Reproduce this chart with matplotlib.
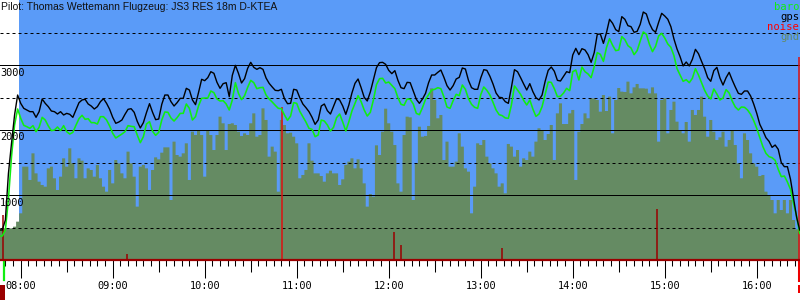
import numpy as np
import matplotlib
matplotlib.use('Agg')
import matplotlib.pyplot as plt
import matplotlib.transforms as mtransforms
from matplotlib.patches import Rectangle

# barogram of one flight, times in minutes after midnight, heights in m
title = 'Pilot: Thomas Wettemann Flugzeug: JS3 RES 18m D-KTEA'

# logger fixes every 2 minutes from 07:46 to 16:28
fix_time = np.arange(466, 989, 2)

gps = [462,
       462, 615, 1333, 1795, 2231, 2538, 2410, 2333, 2308, 2282, 2282, 2195, 2282, 2477, 2410, 2359, 2292, 2282, 2246,
       2282, 2231, 2256, 2241, 2195, 2308, 2420, 2462, 2472, 2400, 2369, 2323, 2359, 2436, 2482, 2410, 2318, 2195,
       2103, 2123, 2154, 2241, 2318, 2328, 2272, 2133, 2031, 2113, 2267, 2405, 2272, 2159, 2169, 2395, 2538, 2538, 2436,
       2369, 2421, 2487, 2487, 2641, 2615, 2462, 2390, 2580, 2780, 2759, 2805, 2897, 2872, 2733, 2641, 2713, 2728, 2513,
       2841, 2995, 2872, 2723, 2790, 2949, 3041, 2964, 2933, 2959, 2933, 2800, 2718, 2662, 2610, 2605, 2626, 2482, 2405,
       2410, 2626, 2615, 2497, 2400, 2344, 2282, 2195, 2087, 2154, 2369, 2400, 2297, 2246, 2364, 2482, 2462, 2369,
       2241, 2385, 2569, 2718, 2785, 2651, 2503, 2446, 2585, 2769, 2959, 3036, 3041, 3010, 2918, 2867, 2913, 2764, 2651,
       2636, 2733, 2728, 2600, 2472, 2410, 2477, 2564, 2728, 2846, 2846, 2887, 2923, 2810, 2682, 2615, 2682, 2785, 2810,
       2954, 2938, 2764, 2651, 2626, 2626, 2800, 2928, 2918, 2826, 2708, 2569, 2503, 2497, 2436, 2410, 2656, 2928, 2897,
       2805, 2708, 2615, 2713, 2590, 2497, 2462, 2538, 2749, 2918, 2969, 2903, 2764, 2754, 2826, 2897, 2882, 3154,
       3256, 3159, 3251, 3231, 3159, 3041, 3190, 3472, 3477, 3333, 3497, 3703, 3641, 3544, 3513, 3744, 3703, 3605, 3590,
       3503, 3518, 3626, 3815, 3785, 3641, 3544, 3503, 3656, 3795, 3754, 3703, 3590, 3400, 3246, 3128, 2985, 3046, 2985,
       3087, 3241, 3174, 3056, 2944, 2805, 2749, 2913, 2964, 2800, 2692, 2805, 2887, 2769, 2662, 2564, 2549, 2600, 2600,
       2523, 2400, 2256, 2087, 1990, 1882, 1826, 1733, 1769, 1703, 1498, 1436, 1436, 1241, 944, 657, 462]

baro = [369,
        369, 462, 939, 1590, 2077, 2323, 2180, 2072, 2051, 2026, 2067, 1974, 2041, 2195, 2154, 2062, 1990, 2000, 2046,
        1990, 2067, 1974, 1938, 1964, 2072, 2174, 2226, 2164, 2174, 2113, 2113, 2092, 2205, 2205, 2154, 2062, 1949,
        1877, 1908, 1938, 1974, 2067, 2056, 2051, 1923, 1805, 1897, 2092, 2128, 1980, 1918, 1964, 2154, 2277, 2272, 2185,
        2138, 2190, 2256, 2256, 2400, 2333, 2154, 2205, 2374, 2487, 2492, 2492, 2600, 2574, 2477, 2446, 2451, 2400, 2308,
        2462, 2728, 2564, 2467, 2528, 2656, 2764, 2728, 2636, 2651, 2656, 2538, 2477, 2431, 2380, 2333, 2328, 2231, 2149,
        2215, 2421, 2410, 2287, 2205, 2123, 2026, 2010, 1897, 1923, 2154, 2138, 2077, 1985, 2041, 2190, 2246, 2123,
        1985, 2128, 2292, 2410, 2528, 2436, 2308, 2215, 2272, 2462, 2697, 2790, 2795, 2723, 2738, 2687, 2636, 2497, 2395,
        2380, 2477, 2472, 2400, 2256, 2236, 2344, 2472, 2544, 2615, 2626, 2651, 2636, 2508, 2354, 2333, 2451, 2549, 2528,
        2692, 2626, 2482, 2395, 2349, 2333, 2544, 2662, 2610, 2538, 2426, 2308, 2236, 2221, 2185, 2180, 2385, 2677, 2615,
        2549, 2456, 2385, 2462, 2323, 2210, 2246, 2359, 2549, 2738, 2733, 2636, 2513, 2518, 2569, 2641, 2605, 2897,
        2923, 2769, 2969, 2897, 2862, 2805, 2974, 3190, 3164, 3056, 3267, 3405, 3303, 3221, 3231, 3436, 3390, 3297, 3262,
        3159, 3221, 3369, 3508, 3472, 3318, 3205, 3287, 3446, 3487, 3415, 3323, 3272, 3144, 2944, 2846, 2749, 2774, 2728,
        2795, 2944, 2846, 2728, 2610, 2523, 2477, 2631, 2554, 2462, 2492, 2621, 2569, 2446, 2354, 2308, 2354, 2349, 2308,
        2241, 2144, 2026, 1882, 1744, 1641, 1590, 1574, 1533, 1395, 1282, 1292, 1200, 1087, 867, 672, 410]

gnd = [487,
       487, 487, 487, 487, 513, 590, 718, 1436, 1436, 1231, 1641, 1333, 1205, 1154, 1128, 1410, 1436, 1257, 1077,
       1282, 1564, 1436, 1718, 1487, 1257, 1564, 1528, 1257, 1410, 1385, 1282, 1462, 1257, 1128, 1051, 1385, 1179,
       1538, 1487, 1333, 1257, 1667, 1487, 1282, 821, 1436, 1462, 1410, 1077, 1385, 1579, 1549, 1651, 1733, 1733, 923,
       1821, 1615, 1590, 1641, 1795, 1231, 1974, 1923, 1990, 1923, 1282, 2000, 1923, 1692, 1923, 2205, 2103, 1692, 2092,
       2103, 2077, 1974, 1908, 1949, 1923, 2103, 2256, 1897, 1923, 2333, 2154, 1590, 1744, 1667, 1051, 2154, 2077, 1949,
       1959, 1897, 1795, 1257, 1308, 1385, 1795, 1528, 1333, 1333, 1292, 1205, 1333, 1374, 1333, 1333, 1154, 1241,
       1462, 1513, 1564, 1410, 1549, 1410, 1179, 821, 1015, 974, 1764, 1615, 1974, 2328, 2103, 1974, 1769, 1179, 1051,
       1923, 2205, 2195, 923, 1487, 2051, 1897, 1908, 2062, 2641, 2462, 2180, 2231, 1538, 1821, 1436, 1436, 1513, 1949,
       1744, 1410, 1359, 718, 1128, 1795, 1769, 1846, 1590, 1487, 1410, 1333, 1128, 1179, 1026, 1785, 1744, 1590, 1692,
       1436, 1564, 1538, 1667, 1590, 1821, 2026, 2000, 1846, 1938, 2077, 1538, 2256, 2410, 2092, 2092, 2256, 2308,
       1231, 1974, 2092, 2256, 2180, 2487, 2487, 2462, 2282, 2538, 2292, 2513, 1949, 2462, 2646, 2590, 2585, 2744, 2564,
       2656, 2708, 2641, 2641, 2636, 2564, 2656, 2564, 1821, 2462, 2487, 1949, 2308, 2436, 2128, 2000, 1949, 2123, 1821,
       2308, 2231, 2308, 2513, 2205, 1897, 2154, 1974, 1846, 1887, 1974, 1744, 1846, 1990, 1769, 1487, 1257, 1949, 1846,
       1641, 1487, 1436, 1292, 1308, 1051, 985, 923, 718, 923, 769, 923, 718, 923, 615, 472, 462]

# noise spikes
noise_time = [468.5, 549.3, 650.6, 723.7, 728.0, 793.7, 894.8, 987.6]
noise_value = [690, 90, 2350, 435, 230, 185, 780, 3120]

takeoff = 469
landing = 987.8
sky_start = 479

blue = '#5a9bf8'
gnd_col = '#658b63'
baro_col = '#11ee11'
dark_red = '#9a0000'

fig = plt.figure(figsize=(8, 3), dpi=100)
ax = fig.add_axes([0, 40 / 300, 1, 260 / 300])
ax.set_facecolor('white')
ax.set_xlim(466.5, 988.2)
ax.set_ylim(0, 4000)

ax.axvspan(sky_start, 990, color=blue, lw=0, zorder=0)
ax.fill_between(fix_time, 0, gnd, step='mid', color=gnd_col, lw=0, zorder=1)

for v in [1000, 2000, 3000]:
    ax.axhline(v, color='black', lw=0.72, zorder=2)
for v in [500, 1500, 2500, 3500]:
    ax.axhline(v, color='black', lw=0.72, ls=(0, (3, 3)), zorder=2)

ncol = ['#dd1111' if v > 2000 else dark_red for v in noise_value]
ax.vlines(noise_time, 0, noise_value, colors=ncol, lw=1.1, zorder=3)

ax.plot(fix_time, baro, color=baro_col, lw=1.15, zorder=4)
ax.plot(fix_time, gps, color='black', lw=1.0, zorder=5)

# axes and ticks
for s in ['top', 'left', 'right']:
    ax.spines[s].set_visible(False)
ax.spines['bottom'].set_color(dark_red)
ax.spines['bottom'].set_linewidth(1.6)
ax.spines['bottom'].set_zorder(6)
ax.set_yticks([])

hours = np.arange(480, 990, 60)
ax.set_xticks(hours)
ax.set_xticklabels(['%02d:%02d' % divmod(int(h), 60) for h in hours],
                   family='DejaVu Sans Mono', fontsize=7.4)
ax.set_xticks(np.arange(470, 990, 5), minor=True)
ax.tick_params(which='major', length=13, width=0.75, color='black', pad=2)
ax.tick_params(which='minor', length=4.3, width=0.75, color='black')

sec = ax.secondary_xaxis('bottom')
sec.set_xticks(np.arange(510, 990, 60))
sec.tick_params(length=8.6, width=0.75, color='black', labelbottom=False)
sec.spines['bottom'].set_visible(False)

for v in [1000, 2000, 3000]:
    ax.annotate(str(v), xy=(0, v), xycoords=('axes fraction', 'data'),
                xytext=(0, -1.8), textcoords='offset points',
                ha='left', va='top', family='DejaVu Sans Mono', fontsize=7.4, zorder=7)

# take-off and landing marks under the axis
trans = mtransforms.blended_transform_factory(ax.transData, ax.transAxes)
ax.plot([takeoff, takeoff], [-0.008, -0.077], color=baro_col, lw=1.6,
        transform=trans, clip_on=False)
ax.add_patch(Rectangle((466.5, -0.16), 3.3, 0.064, color=dark_red,
                       transform=trans, clip_on=False, lw=0))
ax.plot([landing, landing], [-0.008, -0.077], color='#ee0000', lw=2.2,
        transform=trans, clip_on=False)
ax.add_patch(Rectangle((landing - 0.6, -0.125), 1.5, 0.03, color='#ee0000',
                       transform=trans, clip_on=False, lw=0))

fig.text(0.001, 1 - 7.5 / 300, title, ha='left', va='center',
         family='Liberation Sans', fontsize=7.5, color='#111111')

legend = [('baro', baro_col), ('gps', 'black'), ('noise', '#ff0000'), ('gnd', gnd_col)]
for i, (name, c) in enumerate(legend):
    fig.text(0.999, 1 - (7 + 10 * i) / 300, name, ha='right', va='center',
             family='DejaVu Sans Mono', fontsize=7.6, color=c)

fig.savefig('out.png', dpi=100)
